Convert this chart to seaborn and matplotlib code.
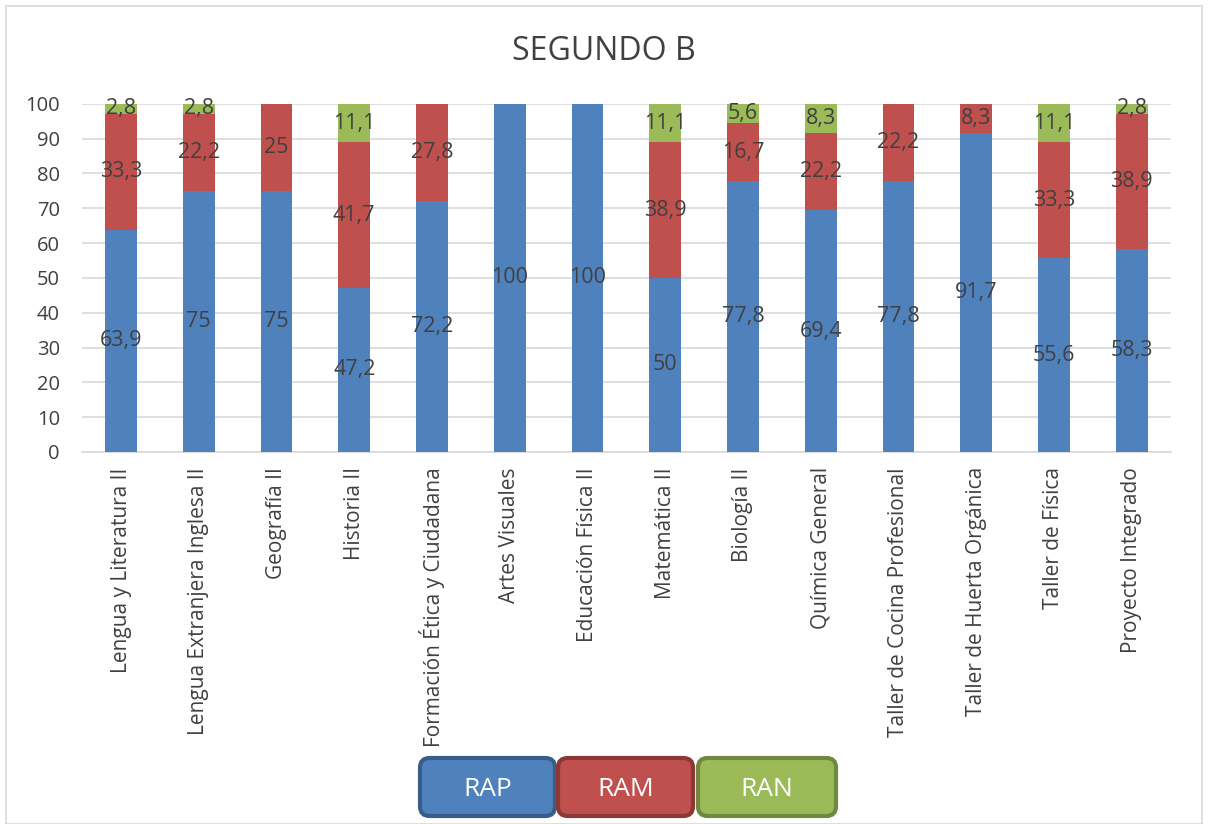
import numpy as np
import pandas as pd
import seaborn as sns
import matplotlib.pyplot as plt
from matplotlib.patches import FancyBboxPatch, Rectangle

# Data
materias = ['Lengua y Literatura II', 'Lengua Extranjera Inglesa II', 'Geografía II',
            'Historia II', 'Formación Ética y Ciudadana', 'Artes Visuales',
            'Educación Física II', 'Matemática II', 'Biología II', 'Química General',
            'Taller de Cocina Profesional', 'Taller de Huerta Orgánica',
            'Taller de Física', 'Proyecto Integrado']
rap = [63.9, 75, 75, 47.2, 72.2, 100, 100, 50, 77.8, 69.4, 77.8, 91.7, 55.6, 58.3]
ram = [33.3, 22.2, 25, 41.7, 27.8, 0, 0, 38.9, 16.7, 22.2, 22.2, 8.3, 33.3, 38.9]
ran = [2.8, 2.8, 0, 11.1, 0, 0, 0, 11.1, 5.6, 8.3, 0, 0, 11.1, 2.8]

series = ['RAP', 'RAM', 'RAN']
colors = {'RAP': '#4F81BD', 'RAM': '#C0504D', 'RAN': '#9BBB59'}
edges = {'RAP': '#385D8A', 'RAM': '#8C3836', 'RAN': '#71893F'}
text_col = '#404040'

df = pd.DataFrame({'materia': materias, 'RAP': rap, 'RAM': ram, 'RAN': ran})

sns.set_style('white')
plt.rcParams['font.family'] = ['Open Sans', 'DejaVu Sans']

fig = plt.figure(figsize=(12.08, 8.24), dpi=100)
ax = fig.add_axes([0.068, 0.4515, 0.901, 0.4225])

bottom = np.zeros(len(materias))
for s in series:
    sns.barplot(data=df, x='materia', y=s, color=colors[s], bottom=bottom,
                width=0.41, ax=ax, saturation=1, zorder=3, linewidth=0)
    cont = ax.containers[-1]
    labels = [f'{v:g}'.replace('.', ',') if v > 0 else '' for v in df[s]]
    ax.bar_label(cont, labels=labels, label_type='center', fontsize=15.5, color=text_col)
    bottom = bottom + df[s].values

ax.set_ylim(0, 100)
ax.set_yticks(range(0, 101, 10))
ax.set_xlim(-0.5, len(materias) - 0.5)
ax.yaxis.grid(True, color='#D9D9D9', linewidth=1.2, zorder=0)
ax.set_xlabel('')
ax.set_ylabel('')
for sp in ['top', 'right', 'left']:
    ax.spines[sp].set_visible(False)
ax.spines['bottom'].set_color('#D9D9D9')
ax.spines['bottom'].set_linewidth(1.2)
ax.tick_params(axis='y', labelsize=14.5, labelcolor=text_col, length=0, pad=16)
ax.tick_params(axis='x', labelsize=15, labelcolor=text_col, length=0, pad=11)
plt.setp(ax.get_xticklabels(), rotation=90)

fig.text(0.5, 0.937, 'SEGUNDO B', ha='center', va='center', fontsize=23, color=text_col)

# custom legend boxes
W, H = 1208, 824
boxes = [('RAP', 420, 555), ('RAM', 558, 693), ('RAN', 698, 836)]
for name, x0, x1 in boxes:
    p = FancyBboxPatch((x0 / W, (H - 816) / H), (x1 - x0) / W, 58 / H,
                       boxstyle='round,pad=0,rounding_size=0.008',
                       transform=fig.transFigure, facecolor=colors[name],
                       edgecolor=edges[name], linewidth=3, mutation_aspect=W / H)
    fig.patches.append(p)
    fig.text((x0 + x1) / 2 / W, (H - 789) / H, name, ha='center', va='center',
             fontsize=19, color='white')

# outer frame
fig.patches.append(Rectangle((6 / W, 0), 1196 / W, 818 / H, transform=fig.transFigure,
                             fill=False, edgecolor='#D9D9D9', linewidth=1.2))

fig.savefig('out.png', dpi=100)
